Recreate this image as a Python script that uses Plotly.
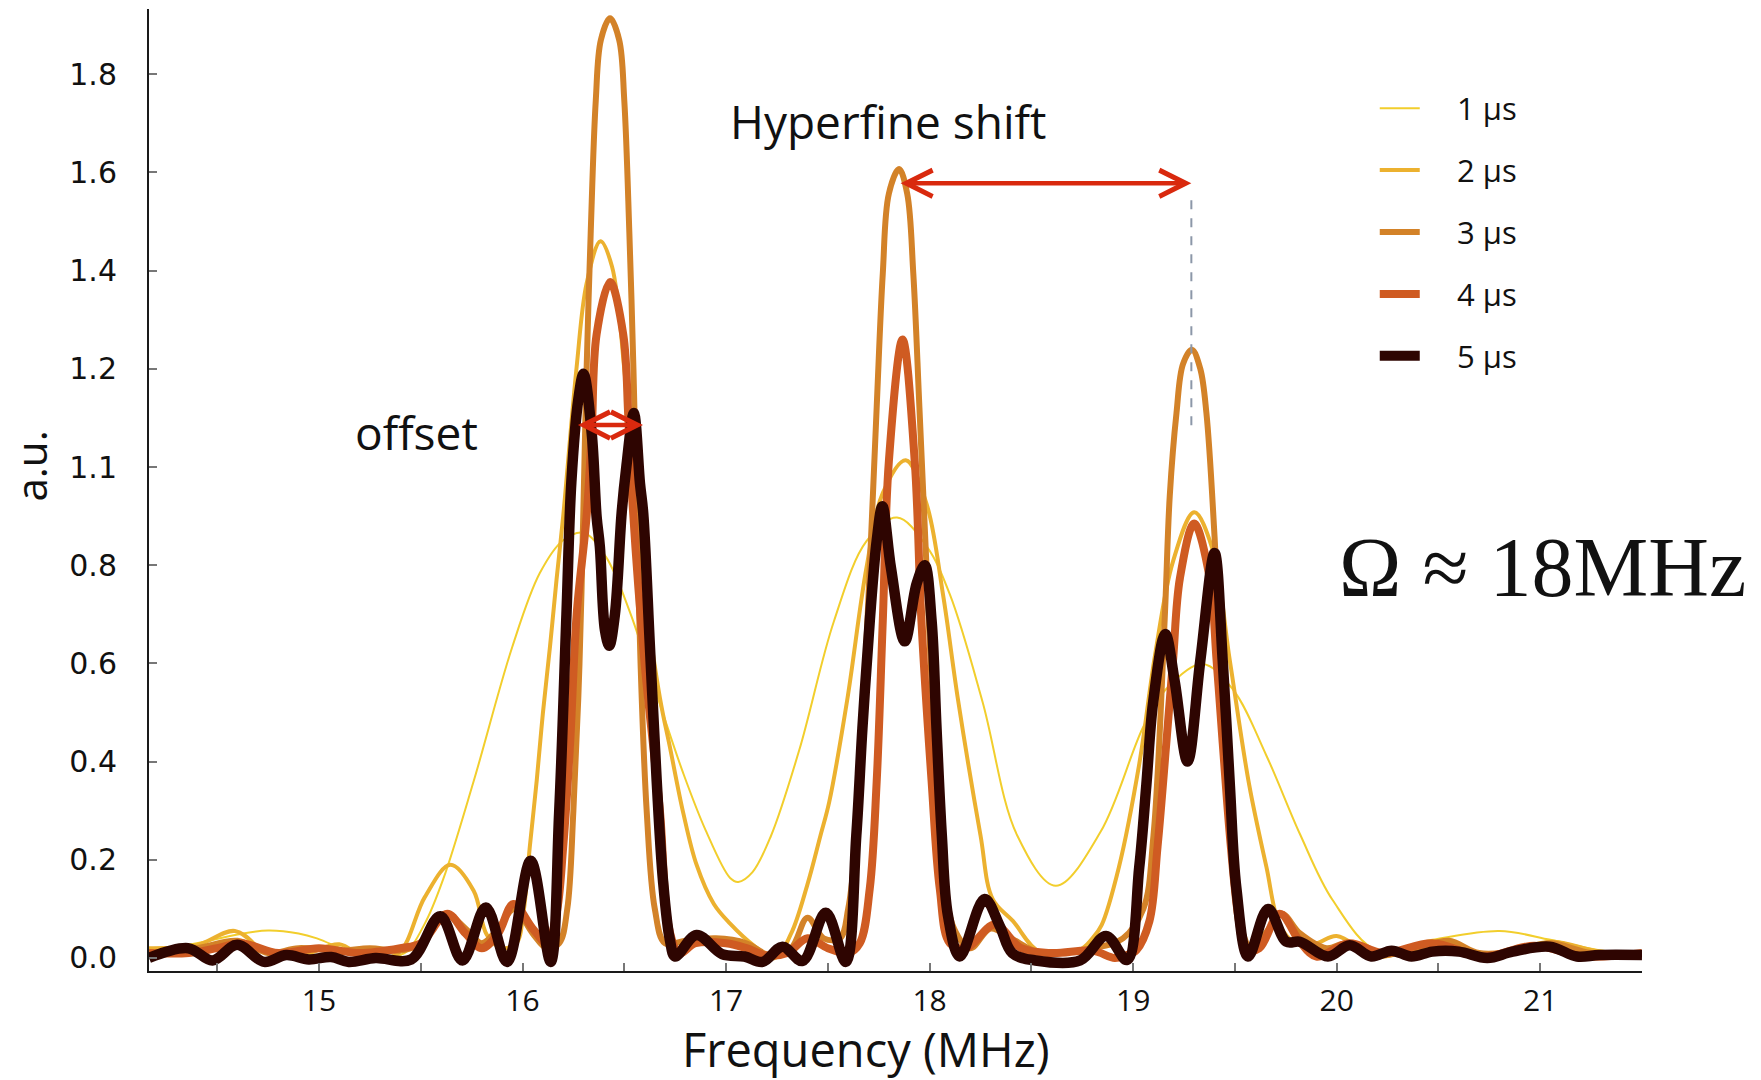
import plotly.graph_objects as go

# ---------------- data ----------------
series_names = ["1 μs", "2 μs", "3 μs", "4 μs", "5 μs"]

freq_1us = [14.165, 14.40, 14.60, 14.75, 14.90, 14.99, 15.17, 15.30, 15.42, 15.52, 15.61, 15.76, 15.95, 16.085,
            16.20, 16.30, 16.41, 16.53, 16.69, 16.79, 16.90, 17.02, 17.06, 17.13, 17.22, 17.36, 17.53, 17.69,
            17.84, 17.985, 18.10, 18.26, 18.43, 18.62, 18.84, 19.05, 19.16, 19.34, 19.49, 19.655, 19.82, 19.98,
            20.20, 20.47, 20.80, 21.05, 21.29, 21.50]
amp_1us = [0.014, 0.03, 0.048, 0.056, 0.05, 0.04, 0.01, 0.002, 0.01, 0.07, 0.16, 0.36, 0.634, 0.784,
           0.851, 0.866, 0.817, 0.702, 0.498, 0.376, 0.26, 0.163, 0.155, 0.175, 0.248, 0.424, 0.686, 0.849,
           0.897, 0.839, 0.74, 0.522, 0.25, 0.147, 0.257, 0.471, 0.547, 0.599, 0.547, 0.412, 0.252, 0.118,
           0.015, 0.037, 0.055, 0.037, 0.016, 0.01]

freq_2us = [14.165, 14.40, 14.587, 14.73, 14.82, 14.95, 15.10, 15.23, 15.39, 15.52, 15.646, 15.76, 15.825,
            15.90, 15.97, 16.004, 16.036, 16.07, 16.10, 16.135, 16.167, 16.20, 16.266, 16.315, 16.383, 16.44,
            16.50, 16.55, 16.593, 16.675, 16.724, 16.79, 16.855, 16.94, 17.02, 17.135, 17.24, 17.32, 17.40,
            17.463, 17.507, 17.595, 17.69, 17.77, 17.883, 17.985, 18.066, 18.14, 18.25, 18.31, 18.41, 18.54,
            18.735, 18.80, 18.845, 18.93, 19.03, 19.11, 19.196, 19.30, 19.39, 19.475, 19.57, 19.655, 19.72,
            19.80, 19.90, 20.0, 20.195, 20.35, 20.52, 20.75, 21.05, 21.29, 21.50]
amp_2us = [0.02, 0.026, 0.055, 0.013, 0.0, 0.01, 0.028, 0.0, 0.01, 0.124, 0.19, 0.137, 0.047,
           0.02, 0.03, 0.091, 0.227, 0.362, 0.498, 0.634, 0.77, 0.9, 1.204, 1.374, 1.46, 1.408,
           1.2, 0.95, 0.77, 0.53, 0.43, 0.295, 0.19, 0.11, 0.07, 0.026, 0.0, 0.05, 0.15,
           0.248, 0.318, 0.525, 0.795, 0.947, 1.014, 0.925, 0.74, 0.525, 0.25, 0.12, 0.075, 0.013,
           0.016, 0.04, 0.067, 0.185, 0.395, 0.623, 0.808, 0.908, 0.833, 0.606, 0.353, 0.185, 0.067,
           0.03, 0.03, 0.045, 0.003, 0.015, 0.033, 0.003, 0.033, 0.013, 0.01]

freq_3us = [14.165, 14.40, 14.60, 14.75, 14.90, 15.10, 15.25, 15.40, 15.50, 15.62, 15.72, 15.80, 15.88, 15.96,
            16.05, 16.12, 16.18, 16.22, 16.25, 16.28, 16.30, 16.315, 16.335, 16.36, 16.385, 16.43, 16.475,
            16.50, 16.525, 16.545, 16.56, 16.58, 16.61, 16.65, 16.70, 16.80, 16.95, 17.10, 17.22, 17.32,
            17.40, 17.48, 17.56, 17.60, 17.63, 17.67, 17.706, 17.74, 17.77, 17.80, 17.85, 17.89, 17.92,
            17.95, 17.985, 18.02, 18.06, 18.12, 18.20, 18.30, 18.40, 18.55, 18.80, 18.95, 19.05, 19.10,
            19.155, 19.18, 19.213, 19.245, 19.289, 19.33, 19.36, 19.40, 19.43, 19.47, 19.52, 19.58, 19.65,
            19.73, 19.82, 19.95, 20.05, 20.20, 20.40, 20.55, 20.70, 20.90, 21.05, 21.25, 21.50]
amp_3us = [0.01, 0.02, 0.035, 0.01, 0.02, 0.015, 0.02, 0.015, 0.03, 0.09, 0.06, 0.03, 0.06, 0.10,
           0.05, 0.02, 0.03, 0.1, 0.3, 0.6, 0.93, 1.2, 1.476, 1.747, 1.87, 1.914, 1.87,
           1.747, 1.476, 1.2, 0.93, 0.6, 0.3, 0.1, 0.03, 0.035, 0.04, 0.03, 0.005, 0.02,
           0.082, 0.04, 0.04, 0.1, 0.2, 0.468, 0.795, 1.121, 1.394, 1.557, 1.607, 1.557, 1.394,
           1.121, 0.795, 0.468, 0.2, 0.06, 0.02, 0.06, 0.04, 0.01, 0.02, 0.04, 0.1, 0.25,
           0.69, 0.942, 1.11, 1.21, 1.239, 1.20, 1.11, 0.858, 0.6, 0.3, 0.08, 0.02, 0.05,
           0.09, 0.05, 0.02, 0.03, 0.005, 0.02, 0.035, 0.01, 0.015, 0.03, 0.01, 0.01]

freq_4us = [14.165, 14.36, 14.50, 14.62, 14.80, 15.00, 15.20, 15.40, 15.50, 15.63, 15.72, 15.80, 15.88, 15.955,
            16.05, 16.12, 16.167, 16.20, 16.233, 16.266, 16.315, 16.34, 16.364, 16.43, 16.495, 16.52, 16.54,
            16.60, 16.675, 16.72, 16.77, 16.85, 17.00, 17.10, 17.20, 17.30, 17.40, 17.50, 17.60, 17.657,
            17.706, 17.74, 17.77, 17.80, 17.867, 17.927, 17.96, 18.01, 18.05, 18.10, 18.18, 18.32, 18.45,
            18.60, 18.80, 18.91, 18.96, 19.016, 19.08, 19.12, 19.163, 19.196, 19.23, 19.30, 19.376, 19.41,
            19.44, 19.48, 19.52, 19.556, 19.62, 19.72, 19.82, 19.90, 20.06, 20.23, 20.47, 20.72, 20.97,
            21.22, 21.50]
amp_4us = [0.01, 0.01, 0.02, 0.03, 0.01, 0.02, 0.01, 0.02, 0.03, 0.09, 0.05, 0.02, 0.05, 0.11,
           0.06, 0.03, 0.09, 0.227, 0.43, 0.70, 0.90, 1.07, 1.27, 1.377, 1.27, 1.10, 0.93,
           0.6, 0.3, 0.06, 0.01, 0.03, 0.03, 0.02, 0.005, 0.01, 0.04, 0.02, 0.01, 0.03,
           0.141, 0.359, 0.686, 1.012, 1.26, 1.012, 0.686, 0.359, 0.141, 0.03, 0.02, 0.068, 0.02,
           0.01, 0.015, 0.0, 0.005, 0.016, 0.075, 0.227, 0.438, 0.606, 0.774, 0.885, 0.774, 0.606,
           0.438, 0.227, 0.075, 0.016, 0.02, 0.09, 0.033, 0.003, 0.03, 0.01, 0.03, 0.003, 0.025,
           0.003, 0.01]

freq_5us = [14.165, 14.357, 14.477, 14.598, 14.73, 14.84, 14.95, 15.06, 15.146, 15.278, 15.453, 15.596, 15.705,
            15.82, 15.924, 16.04, 16.138, 16.18, 16.216, 16.24, 16.274, 16.30, 16.34, 16.364, 16.38, 16.405,
            16.426, 16.454, 16.487, 16.51, 16.547, 16.577, 16.593, 16.626, 16.659, 16.69, 16.724, 16.75,
            16.855, 16.98, 17.09, 17.18, 17.277, 17.376, 17.49, 17.588, 17.64, 17.67, 17.706, 17.74, 17.768,
            17.81, 17.878, 17.936, 17.976, 18.01, 18.034, 18.06, 18.09, 18.148, 18.27, 18.345, 18.406,
            18.52, 18.74, 18.867, 18.97, 19.03, 19.065, 19.098, 19.158, 19.204, 19.267, 19.33, 19.40,
            19.44, 19.475, 19.507, 19.565, 19.663, 19.753, 19.82, 19.957, 20.064, 20.17, 20.27, 20.367,
            20.47, 20.60, 20.74, 20.865, 21.046, 21.18, 21.29, 21.50]
amp_5us = [0.0, 0.02, -0.005, 0.027, -0.008, 0.006, -0.003, 0.002, -0.008, 0.0, -0.003, 0.085, -0.005,
           0.103, -0.008, 0.198, -0.008, 0.295, 0.70, 0.97, 1.137, 1.19, 1.069, 0.899, 0.838, 0.668,
           0.636, 0.70, 0.906, 1.0, 1.11, 0.967, 0.906, 0.634, 0.363, 0.159, 0.037, 0.003,
           0.047, 0.008, 0.003, -0.008, 0.023, -0.006, 0.092, -0.008, 0.25, 0.468, 0.686, 0.849, 0.92,
           0.795, 0.645, 0.762, 0.80, 0.686, 0.468, 0.25, 0.087, 0.003, 0.12, 0.065, 0.01,
           -0.005, -0.005, 0.045, -0.004, 0.185, 0.353, 0.52, 0.66, 0.564, 0.40, 0.606, 0.825,
           0.606, 0.353, 0.143, 0.003, 0.10, 0.033, 0.033, 0.003, 0.026, 0.003, 0.015, 0.003,
           0.013, 0.013, 0.0, 0.013, 0.023, 0.003, 0.006, 0.006]

x_tick_values = [14.5, 15, 15.5, 16, 16.5, 17, 17.5, 18, 18.5, 19, 19.5, 20, 20.5, 21, 21.5]
x_tick_labels = ["", "15", "", "16", "", "17", "", "18", "", "19", "", "20", "", "21", ""]
y_tick_values = [0.0, 0.2, 0.4, 0.6, 0.8, 1.0, 1.2, 1.4, 1.6, 1.8]
y_tick_labels = ["0.0", "0.2", "0.4", "0.6", "0.8", "1.1", "1.2", "1.4", "1.6", "1.8"]

# ---------------- styles ----------------
colors = ["#F2CE2C", "#ECB12F", "#D38228", "#CF5B22", "#2E0501"]
widths = [2, 4, 6, 8, 10.5]
legend_pad = "\u00a0\u00a0\u00a0\u00a0"   # spacing between legend key and label

freqs = [freq_1us, freq_2us, freq_3us, freq_4us, freq_5us]
amps = [amp_1us, amp_2us, amp_3us, amp_4us, amp_5us]

fig = go.Figure()
for i, name in enumerate(series_names):
    fig.add_trace(go.Scatter(
        x=freqs[i], y=amps[i], mode="lines", name=legend_pad + name,
        line=dict(color=colors[i], width=widths[i], shape="spline", smoothing=1.0),
        legendgroup=name,
    ))

sans = "Open Sans, Noto Sans, sans-serif"

fig.update_layout(
    width=1761, height=1080,
    margin=dict(l=149, r=119, t=9, b=109, pad=0),
    paper_bgcolor="white", plot_bgcolor="white",
    showlegend=True,
    legend=dict(
        x=0.821, y=0.9246, xanchor="left", yanchor="top",
        font=dict(family=sans, size=31, color="#111"),
        bgcolor="rgba(0,0,0,0)", borderwidth=0,
        tracegroupgap=18.6, itemwidth=40,
    ),
    xaxis=dict(
        range=[14.165, 21.5], showgrid=False, zeroline=False,
        showline=True, linecolor="#1a1a1a", linewidth=2,
        ticks="inside", ticklen=8, tickwidth=1.5, tickcolor="#777",
        tickvals=x_tick_values, ticktext=x_tick_labels,
        tickfont=dict(family=sans, size=30, color="#111"),
        ticklabelstandoff=2,
    ),
    yaxis=dict(
        range=[-0.0265, 1.933], showgrid=False, zeroline=False,
        showline=True, linecolor="#1a1a1a", linewidth=2,
        ticks="inside", ticklen=8, tickwidth=1.5, tickcolor="#777",
        tickvals=y_tick_values, ticktext=y_tick_labels,
        tickfont=dict(family="DejaVu Sans, sans-serif", size=30, color="#111"),
        ticklabelstandoff=24,
    ),
)

# ---------------- annotation texts & arrows ----------------
arrow_color = "#D9290E"
offset_arrow = dict(x_start=16.265, x_end=16.592, y=1.0855)
shift_arrow = dict(x_start=17.85, x_end=19.286, y=1.578)
shift_guide = dict(x=19.286, y_top=1.56, y_bottom=1.085)

for arr in (offset_arrow, shift_arrow):
    fig.add_annotation(
        x=arr["x_end"], y=arr["y"], ax=arr["x_start"], ay=arr["y"],
        xref="x", yref="y", axref="x", ayref="y", text="",
        showarrow=True, arrowside="end+start",
        arrowhead=5, startarrowhead=5, arrowsize=1.15, startarrowsize=1.15,
        arrowwidth=4.5, arrowcolor=arrow_color,
    )

fig.add_shape(type="line", xref="x", yref="y",
              x0=shift_guide["x"], x1=shift_guide["x"],
              y0=shift_guide["y_bottom"], y1=shift_guide["y_top"],
              line=dict(color="#8C97A8", width=2, dash="dash"))

fig.add_annotation(x=17.795, y=1.705, xref="x", yref="y", text="Hyperfine shift",
                   showarrow=False, font=dict(family=sans, size=46, color="#111"))
fig.add_annotation(x=15.48, y=1.071, xref="x", yref="y", text="offset",
                   showarrow=False, font=dict(family=sans, size=46, color="#111"))
fig.add_annotation(x=21.012, y=0.796, xref="x", yref="y", text="Ω ≈ 18MHz",
                   showarrow=False, font=dict(family="Liberation Serif, DejaVu Serif, serif", size=84, color="#111"))

# axis titles (placed as annotations to match their offset positions)
fig.add_annotation(x=29.5, y=466, xref="paper", yref="paper", text="a.u.", textangle=-90,
                   showarrow=False, font=dict(family=sans, size=42, color="#111"))
fig.add_annotation(x=866, y=1049, xref="paper", yref="paper", text="Frequency (MHz)",
                   showarrow=False, font=dict(family=sans, size=47, color="#111"))

# convert the pixel positions of the two axis titles to paper coordinates
plot_left, plot_right, plot_top, plot_bottom = 149, 1642, 9, 971
for ann in fig.layout.annotations[-2:]:
    px, py = ann.x, ann.y
    ann.x = (px - plot_left) / (plot_right - plot_left)
    ann.y = (plot_bottom - py) / (plot_bottom - plot_top)
    ann.xanchor = "center"
    ann.yanchor = "middle"

fig.write_html("out.html")
